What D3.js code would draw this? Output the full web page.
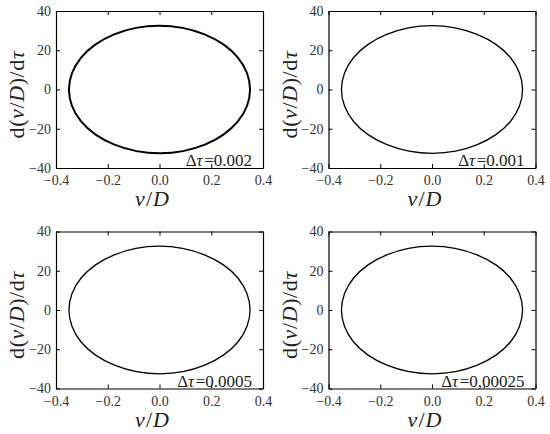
<!DOCTYPE html>
<html>
<head>
<meta charset="utf-8">
<script src="https://cdn.jsdelivr.net/npm/d3@7"></script>
<style>
  body{margin:0;background:#fff;}
  svg{display:block;}
</style>
</head>
<body>
<svg id="chart" width="550" height="434" font-family="Liberation Serif"></svg>
<script>
// tick labels
const x_ticks=[-0.4,-0.2,0,0.2,0.4];
const y_ticks=[-40,-20,0,20,40];

// time step of each panel (as written in the figure)
const dt_labels=["0.002","0.001","0.0005","0,00025"];

// phase trajectory (v/D , d(v/D)/dτ)
const orbit_x=[0.350,0.338,0.303,0.247,0.175,0.091,0.002,-0.089,-0.174,-0.247,-0.303,-0.338,
               -0.350,-0.338,-0.303,-0.247,-0.175,-0.091,-0.002,0.089,0.174,0.247,0.303,0.338];
const orbit_y=[0,-8.4,-16.3,-23.0,-28.1,-31.4,-32.5,-31.4,-28.1,-23.0,-16.3,-8.4,
               0,8.4,16.3,23.0,28.1,31.4,32.5,31.4,28.1,23.0,16.3,8.4];

// line weight of each panel
const line_width=[2,1.3,1.3,1.3];

const svg=d3.select("#chart");
const plot_w=207, plot_h=157;
const col_x=[56,328.5];
const row_y=[11,231.5];
const FONT="Liberation Serif";

const orbit=orbit_x.map((v,i)=>({x:v,y:orbit_y[i]}));

dt_labels.forEach((dt,k)=>{
    const ox=col_x[k%2], oy=row_y[Math.floor(k/2)];
    const g=svg.append("g").attr("transform",`translate(${ox},${oy})`);

    const x=d3.scaleLinear().domain([-0.4,0.4]).range([0,plot_w]);
    const y=d3.scaleLinear().domain([-40,40]).range([plot_h,0]);

    // curve
    const line=d3.line()
        .x(d=>x(d.x))
        .y(d=>y(d.y))
        .curve(d3.curveCatmullRomClosed);
    g.append("path")
        .datum(orbit)
        .attr("d",line)
        .attr("fill","none")
        .attr("stroke","#000")
        .attr("stroke-width",line_width[k]);

    // axes (ticks inward, box all round)
    const ax=(axis)=>axis.tickSizeInner(-4).tickSizeOuter(0).tickPadding(6);
    const bottom=g.append("g").attr("transform",`translate(0,${plot_h})`)
        .call(ax(d3.axisBottom(x).tickValues(x_ticks).tickFormat(d3.format(".1f"))));
    const left=g.append("g")
        .call(ax(d3.axisLeft(y).tickValues(y_ticks).tickFormat(d3.format("d"))));
    const top=g.append("g")
        .call(ax(d3.axisTop(x).tickValues(x_ticks)).tickFormat(""));
    const right=g.append("g").attr("transform",`translate(${plot_w},0)`)
        .call(ax(d3.axisRight(y).tickValues(y_ticks)).tickFormat(""));
    [bottom,left,top,right].forEach(a=>{
        a.attr("font-family",FONT).attr("font-size",14);
        a.select(".domain").attr("stroke","#000").attr("stroke-width",1.2);
        a.selectAll(".tick line").attr("stroke","#000");
        a.selectAll(".tick text")
            .attr("font-family",FONT)
            .attr("font-size",14)
            .attr("fill","#333");
    });
    bottom.selectAll(".tick text").attr("dy","0.72em").attr("y",7);
    left.selectAll(".tick text").attr("x",-5);

    // x label
    const xl=g.append("text")
        .attr("x",plot_w/2-7)
        .attr("y",plot_h+38)
        .attr("text-anchor","middle")
        .attr("font-family",FONT)
        .attr("font-size",22)
        .attr("letter-spacing",1)
        .attr("fill","#222");
    xl.append("tspan").attr("font-style","italic").text("v");
    xl.append("tspan").text("/");
    xl.append("tspan").attr("font-style","italic").text("D");

    // y label
    const yl=g.append("text")
        .attr("transform",`translate(${-32},${plot_h/2+5}) rotate(-90)`)
        .attr("text-anchor","middle")
        .attr("font-family",FONT)
        .attr("font-size",22)
        .attr("letter-spacing",0.6)
        .attr("fill","#222");
    yl.append("tspan").text("d(");
    yl.append("tspan").attr("font-style","italic").text("v");
    yl.append("tspan").text("/");
    yl.append("tspan").attr("font-style","italic").text("D");
    yl.append("tspan").text(")/d");
    yl.append("tspan").attr("font-style","italic").text("τ");

    // time step note
    const nt=g.append("text")
        .attr("x",plot_w-11)
        .attr("y",plot_h-2)
        .attr("text-anchor","end")
        .attr("font-family",FONT)
        .attr("font-size",17)
        .attr("fill","#222");
    nt.append("tspan").text("Δ");
    nt.append("tspan").attr("font-style","italic").text("τ");
    nt.append("tspan").attr("dx",1.5).text("="+dt);
});
</script>
</body>
</html>
